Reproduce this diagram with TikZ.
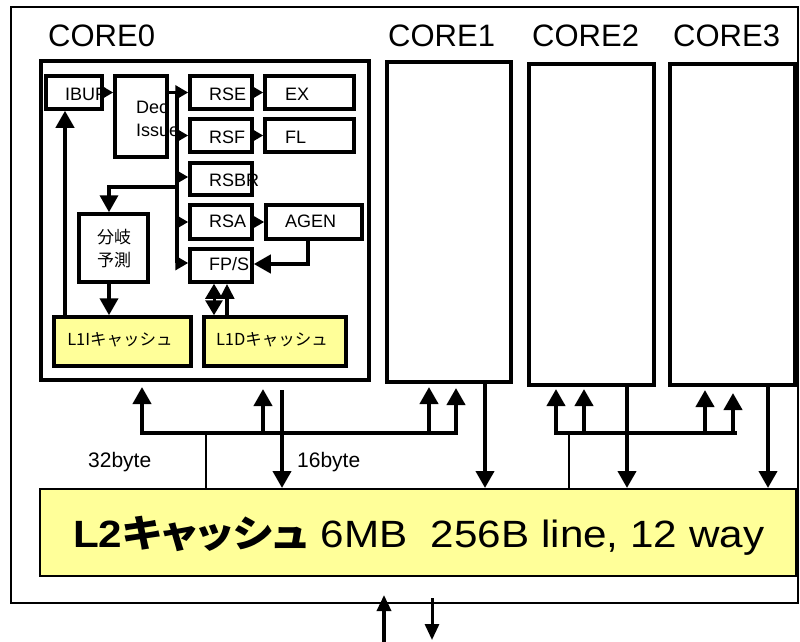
\documentclass[tikz,border=0pt]{standalone}
\usepackage{fontspec}
\usepackage{graphicx}
\setmainfont{Liberation Sans}
\newfontfamily\jp{Noto Sans CJK JP}
\newfontfamily\jpp[RawFeature=+palt]{Noto Sans CJK JP}
\usetikzlibrary{arrows.meta,fit}
\definecolor{cyel}{RGB}{255,255,153}
\begin{document}
\begin{tikzpicture}[x=1pt,y=-1pt,
  outerbox/.style={draw, line width=2pt, inner sep=0pt},
  corebox/.style={draw, line width=4pt, inner sep=0pt},
  blk/.style={draw, line width=3.5pt, inner sep=0pt},
  cachebox/.style={blk, fill=cyel},
  l2box/.style={draw, line width=2pt, fill=cyel, inner sep=0pt},
  lbl/.style={inner sep=0pt, anchor=base west, font=\fontsize{18}{20}\selectfont},
  corelbl/.style={inner sep=0pt, anchor=base west, font=\fontsize{31}{34}\selectfont},
  jplbl/.style={inner sep=0pt, font=\fontsize{16.5}{19}\selectfont\jp},
  bplbl/.style={inner sep=0pt, align=center, font=\fontsize{17}{23}\selectfont\jp},
  bytelbl/.style={inner sep=0pt, anchor=base west, font=\fontsize{21}{24}\selectfont},
  arr/.style={line width=4pt, -{Triangle[width=18pt,length=17pt]}},
  uparr/.style={line width=4.5pt, -{Triangle[width=14pt,length=15pt]}},
  darr/.style={line width=3pt, {Triangle[width=17pt,length=15pt]}-{Triangle[width=17pt,length=15pt]}},
  rstip/.style={line width=3.5pt, -{Triangle[width=14pt,length=13pt]}},
  busline/.style={line width=3.5pt},
  conn/.style={line width=2.5pt},
  extarr/.style={line width=3.5pt, -{Triangle[width=14pt,length=16pt]}},
]
\fill[white] (0,0) rectangle (800,642);
\useasboundingbox (0,0) rectangle (800,642);

% frames
\node[outerbox, fit={(11,7)(798,603)}] (outer) {};
\node[corebox, fit={(41,61)(369,380)}] (core0) {};
\node[corebox, fit={(387,62)(511,382)}] (core1) {};
\node[corebox, fit={(529,64)(654,385)}] (core2) {};
\node[corebox, fit={(670,64)(795,385)}] (core3) {};
\node[corelbl] (lc0) at (48,47) {CORE0};
\node[corelbl] (lc1) at (388,47) {CORE1};
\node[corelbl] (lc2) at (532,47) {CORE2};
\node[corelbl] (lc3) at (673,47) {CORE3};

% core0 blocks
\node[blk, fit={(46,76)(102,109)}] (ibuf) {};
\node[blk, fit={(115,76)(167,157)}] (dec) {};
\node[blk, fit={(190,76)(252,109)}] (rse) {};
\node[blk, fit={(265,76)(354,109)}] (ex) {};
\node[blk, fit={(190,119)(252,152)}] (rsf) {};
\node[blk, fit={(265,119)(354,152)}] (fl) {};
\node[blk, fit={(190,163)(252,195)}] (rsbr) {};
\node[blk, fit={(190,205)(252,239)}] (rsa) {};
\node[blk, fit={(266,205)(362,239)}] (agen) {};
\node[blk, fit={(190,249)(252,282)}] (fpst) {};
\node[blk, fit={(79,214)(148,282)}] (bp) {};
\node[cachebox, fit={(54,317)(191,366)}] (l1i) {};
\node[cachebox, fit={(204,317)(346,366)}] (l1d) {};
\node[l2box, fit={(40,489)(796,576)}] (l2) {};

% texts
\node[lbl] (t-ibuf) at (65,100) {IBUF};
\node[lbl] (t-dec) at (136,113) {Dec};
\node[lbl] (t-issue) at (136,136) {Issue};
\node[lbl] (t-rse) at (209,100) {RSE};
\node[lbl] (t-ex) at (285,100) {EX};
\node[lbl] (t-rsf) at (209,143) {RSF};
\node[lbl] (t-fl) at (285,143) {FL};
\node[lbl] (t-rsbr) at (209,186) {RSBR};
\node[lbl] (t-rsa) at (209,227) {RSA};
\node[lbl] (t-agen) at (285,227) {AGEN};
\node[lbl] (t-fpst) at (209,270) {FP/S};
\node[bplbl] (t-bp) at (114,249) {分岐\\予測};
\node[jplbl] (t-l1i) at (120,340) {L1Iキャッシュ};
\node[jplbl] (t-l1d) at (272,340) {L1Dキャッシュ};
\node[bytelbl] (t-32) at (88,467) {32byte};
\node[bytelbl] (t-16) at (297,467) {16byte};
\node[inner sep=0pt, anchor=base west] (t-l2) at (73,547)
  {\resizebox{691pt}{\height}{\fontsize{38}{40}\selectfont\textbf{L2{\jpp キャッシュ}}\hspace{0.3em}6MB\ \ 256B line, 12 way}};

% helper coordinates
\coordinate (c65) at (65,0);
\coordinate (c109) at (109,0);
\coordinate (cbus) at (177,0);
\coordinate (c214) at (214,0);
\coordinate (c227) at (227,0);
\coordinate (c308) at (308,0);
\coordinate (r92) at (0,92.5);
\coordinate (r135) at (0,135.5);
\coordinate (r177) at (0,177);
\coordinate (r187) at (0,187);
\coordinate (r222) at (0,222);
\coordinate (r262) at (0,263);
\coordinate (r264) at (0,264);

% core0 connectors
\draw[arr] (l1i.north -| c65) -- (ibuf.south -| c65);
\draw[arr] (bp.south -| c109) -- (l1i.north -| c109);
\draw[rstip] (ibuf.east) -- (dec.west |- ibuf.east);
\draw[busline] (dec.east |- r92) -- (cbus |- r92) -- (cbus |- r262);
\draw[rstip] (cbus |- r92) -- (rse.west |- r92);
\draw[rstip] (cbus |- r135) -- (rsf.west |- r135);
\draw[rstip] (cbus |- r177) -- (rsbr.west |- r177);
\draw[rstip] (cbus |- r222) -- (rsa.west |- r222);
\draw[rstip] (cbus |- r262) -- (fpst.west |- r262);
\draw[rstip] (rse.east) -- (ex.west);
\draw[rstip] (rsf.east) -- (fl.west);
\draw[rstip] (rsa.east) -- (agen.west);
\draw[arr, line width=3.5pt] (cbus |- r187) -- (c109 |- r187) -- (bp.north -| c109);
\draw[arr] (agen.south -| c308) -- (c308 |- r264) -- (fpst.east |- r264);
\draw[darr] (fpst.south -| c214) -- (l1d.north -| c214);
\draw[uparr] (l1d.north -| c227) -- (fpst.south -| c227);

% bottom buses
\coordinate (bla) at (140,433);
\coordinate (blb) at (458,433);
\coordinate (u1) at (142,433);
\coordinate (u2) at (263,433);
\coordinate (u3) at (429,433);
\coordinate (u4) at (456,433);
\coordinate (j1) at (206,433);
\coordinate (d1) at (282,0);
\coordinate (d2) at (485,0);
\coordinate (bra) at (554,433);
\coordinate (brb) at (737,433);
\coordinate (u5) at (556,433);
\coordinate (u6) at (584,433);
\coordinate (u7) at (705,433);
\coordinate (u8) at (733,433);
\coordinate (j2) at (569,433);
\coordinate (d3) at (627,0);
\coordinate (d4) at (768,0);

\draw[busline] (bla) -- (blb);
\draw[busline] (bra) -- (brb);
\draw[arr, shorten >=5pt] (u1) -- (u1 |- core0.south);
\draw[arr, shorten >=7pt] (u2) -- (u2 |- core0.south);
\draw[conn] (j1) -- (j1 |- l2.north);
\draw[arr, shorten <=8pt] (d1 |- core0.south) -- (d1 |- l2.north);
\draw[arr, shorten >=3pt] (u3) -- (u3 |- core1.south);
\draw[arr, shorten >=4pt] (u4) -- (u4 |- core1.south);
\draw[arr] (d2 |- core1.south) -- (d2 |- l2.north);
\draw[arr, shorten >=2pt] (u5) -- (u5 |- core2.south);
\draw[arr, shorten >=2pt] (u6) -- (u6 |- core2.south);
\draw[conn] (j2) -- (j2 |- l2.north);
\draw[arr] (d3 |- core2.south) -- (d3 |- l2.north);
\draw[arr, shorten >=3pt] (u7) -- (u7 |- core3.south);
\draw[arr, shorten >=6pt] (u8) -- (u8 |- core3.south);
\draw[arr] (d4 |- core3.south) -- (d4 |- l2.north);

% external
\coordinate (ea) at (384,642);
\coordinate (eb) at (384,595);
\coordinate (ec) at (432,598);
\coordinate (ed) at (432,640);
\draw[extarr] (ea) -- (eb);
\draw[extarr, line width=3pt] (ec) -- (ed);
\end{tikzpicture}
\end{document}
